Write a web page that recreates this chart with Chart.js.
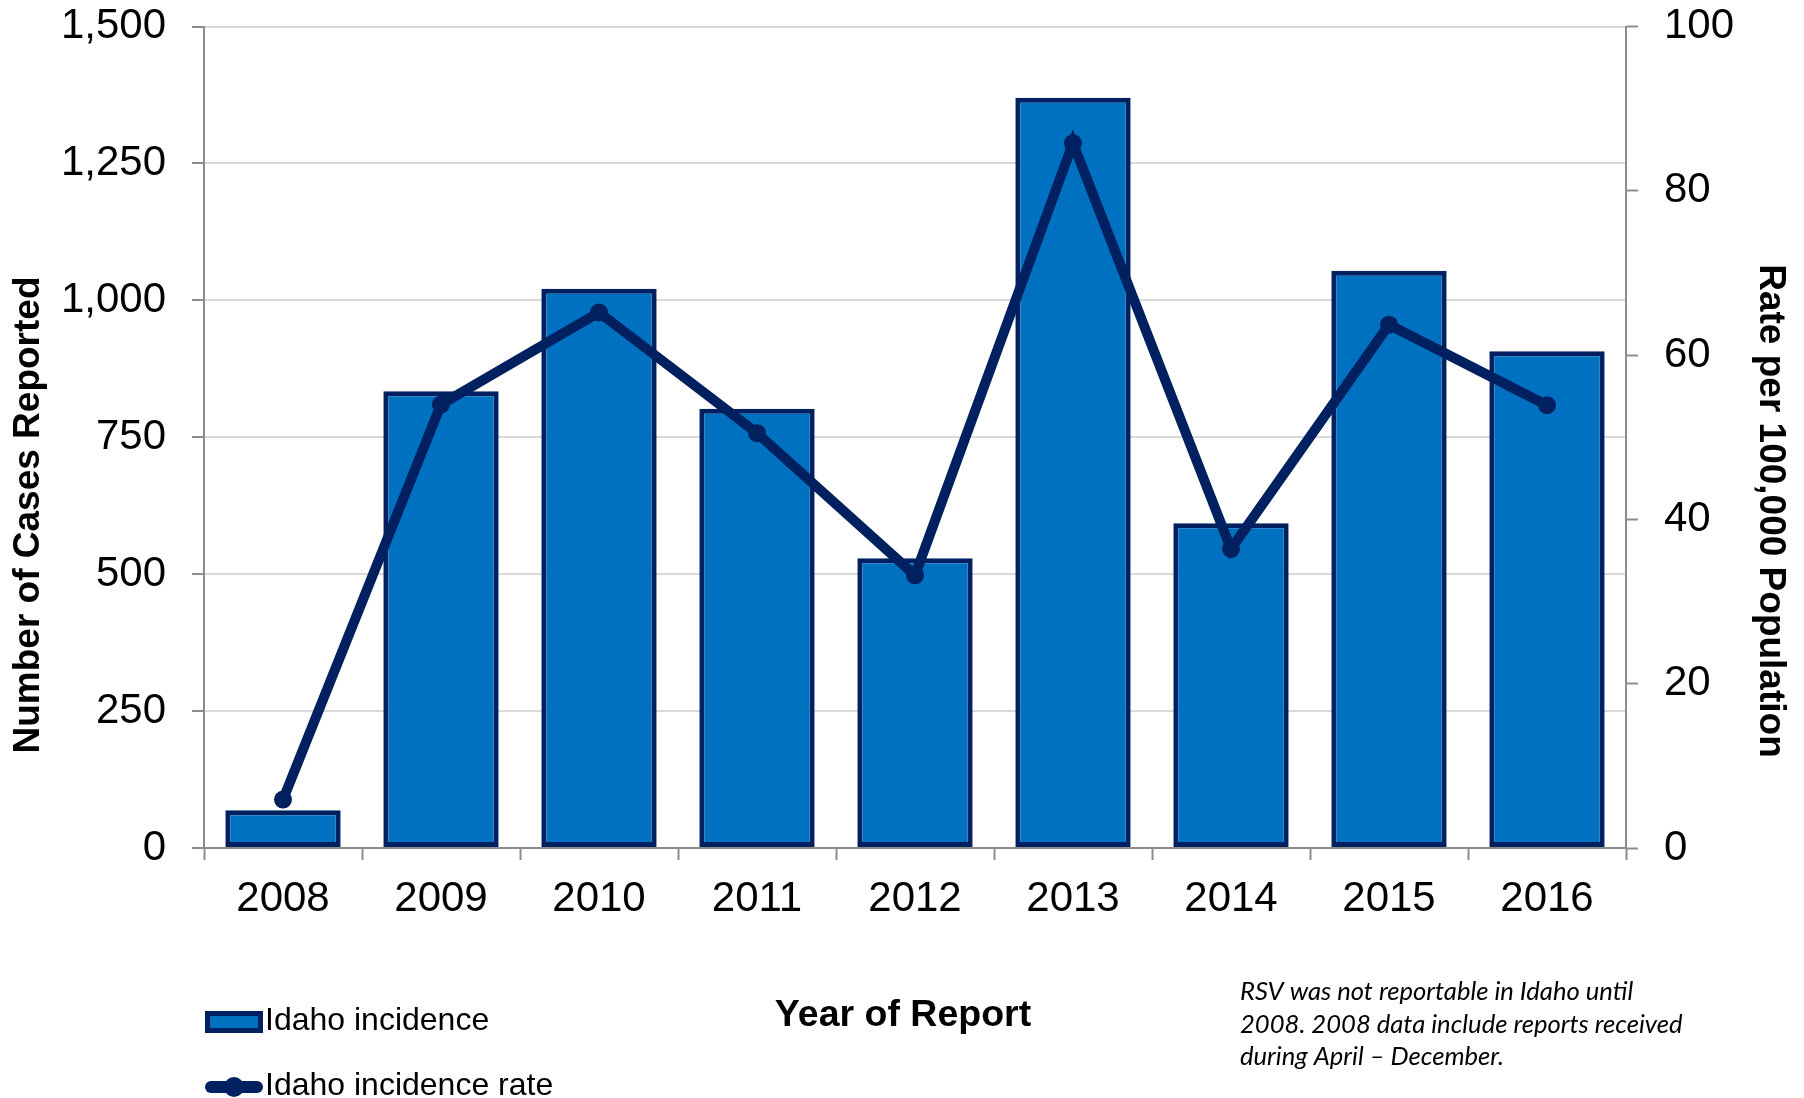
<!DOCTYPE html>
<html>
<head>
<meta charset="utf-8">
<script src="https://cdn.jsdelivr.net/npm/chart.js@4.4.1/dist/chart.umd.min.js"></script>
<style>
  html, body { margin: 0; padding: 0; background: #ffffff; }
  #wrap { position: relative; width: 1804px; height: 1098px; }
  canvas { display: block; }
</style>
</head>
<body>
<div id="wrap"><canvas id="c" width="1804" height="1098"></canvas></div>
<script>
// ---- data ----
const years = ['2008', '2009', '2010', '2011', '2012', '2013', '2014', '2015', '2016'];
const casesReported = [69, 834, 1021, 802, 529, 1370, 593, 1054, 907];
const ratePer100k = [5.9, 54.0, 65.2, 50.5, 33.2, 85.8, 36.4, 63.7, 53.9];
const seriesNames = ['Idaho incidence', 'Idaho incidence rate'];
const leftTicksMax = 1500, leftTickStep = 250;
const rightTicksMax = 100, rightTickStep = 20;
const leftTitle = 'Number of Cases Reported';
const rightTitle = 'Rate per 100,000 Population';
const bottomTitle = 'Year of Report';
const footnoteLines = ['RSV was not reportable in Idaho until', '2008. 2008 data include reports received', 'during April \u2013 December.'];

// ---- styles ----
const BAR_FILL = '#0070C0';
const NAVY = '#002060';
const AXIS_GRAY = '#8c8c8c';
const GRID_GRAY = '#d9d9d9';
const REG = '"Liberation Sans", Arial, sans-serif';
const TICK_FONT = { family: REG, size: 42 };

const PAD_L = 0, PAD_R = 0, PAD_T = 26.5, PAD_B = 0;
const CHART_LEFT = 204, CHART_RIGHT = 1626, CHART_BOTTOM = 848;

const extras = {
  id: 'extras',
  afterDraw(chart) {
    const ctx = chart.ctx;
    ctx.save();
    ctx.fillStyle = '#000';
    ctx.textAlign = 'center';
    ctx.textBaseline = 'middle';
    // left axis title
    ctx.font = 'bold 37px ' + REG;
    ctx.save(); ctx.translate(29, 515); ctx.rotate(-Math.PI / 2); ctx.fillText(leftTitle, 0, 0); ctx.restore();
    // right axis title
    ctx.save(); ctx.translate(1770, 511); ctx.rotate(Math.PI / 2); ctx.fillText(rightTitle, 0, 0); ctx.restore();
    // x title
    ctx.font = 'bold 37.5px ' + REG;
    ctx.fillText(bottomTitle, 903, 1016);

    // legend
    const barDs = chart.data.datasets[0], lineDs = chart.data.datasets[1];
    ctx.fillStyle = barDs.backgroundColor;
    ctx.fillRect(205, 1011, 58, 22);
    ctx.strokeStyle = barDs.borderColor; ctx.lineWidth = 5;
    ctx.strokeRect(207.5, 1013.5, 53, 17);
    ctx.strokeStyle = lineDs.borderColor; ctx.lineWidth = 12; ctx.lineCap = 'round';
    ctx.beginPath(); ctx.moveTo(211, 1087); ctx.lineTo(257, 1087); ctx.stroke();
    ctx.fillStyle = lineDs.borderColor;
    ctx.beginPath(); ctx.arc(234, 1087, 10, 0, Math.PI * 2); ctx.fill();
    ctx.fillStyle = '#000';
    ctx.textAlign = 'left';
    ctx.font = '32px ' + REG;
    ctx.fillText(barDs.label, 265, 1021);
    ctx.fillText(lineDs.label, 265, 1086);

    // footnote
    ctx.font = 'italic 25.6px Lato, "Liberation Sans", sans-serif';
    footnoteLines.forEach((t, i) => ctx.fillText(t, 1240, 992 + i * 32.4));
    ctx.restore();
  }
};

function noVPad(s) { s.paddingTop = 0; s.paddingBottom = 0; }

new Chart(document.getElementById('c'), {
  data: {
    labels: years,
    datasets: [
      {
        type: 'bar', label: seriesNames[0], data: casesReported, yAxisID: 'y',
        backgroundColor: BAR_FILL, borderColor: NAVY, borderWidth: 5, borderSkipped: false,
        categoryPercentage: 1.0, barPercentage: 0.73, order: 2
      },
      {
        type: 'line', label: seriesNames[1], data: ratePer100k, yAxisID: 'y1',
        borderColor: NAVY, backgroundColor: NAVY, borderWidth: 10,
        pointRadius: 9, pointBackgroundColor: NAVY, pointBorderWidth: 0,
        tension: 0, order: 1
      }
    ]
  },
  options: {
    responsive: false, animation: false,
    layout: { padding: { left: PAD_L, right: PAD_R, top: PAD_T, bottom: PAD_B } },
    plugins: { legend: { display: false }, tooltip: { enabled: false } },
    scales: {
      x: {
        type: 'category', offset: true,
        grid: { offset: true, drawOnChartArea: false, drawTicks: true, tickLength: 12, tickColor: AXIS_GRAY, tickWidth: 2 },
        border: { color: AXIS_GRAY, width: 2 },
        ticks: { color: '#000', font: TICK_FONT, padding: 14, maxRotation: 0 },
        afterFit(s) { s.height = 1098 - CHART_BOTTOM - PAD_B; s.paddingLeft = 0; s.paddingRight = 0; }
      },
      y: {
        position: 'left', min: 0, max: leftTicksMax,
        ticks: { stepSize: leftTickStep, color: '#000', font: TICK_FONT, padding: 26,
          callback: v => v.toLocaleString('en-US') },
        grid: { color: GRID_GRAY, lineWidth: 2, tickLength: 12, tickColor: AXIS_GRAY, tickWidth: 2 },
        border: { color: AXIS_GRAY, width: 2 },
        afterFit(s) { s.width = CHART_LEFT - PAD_L; noVPad(s); }
      },
      y1: {
        position: 'right', min: 0, max: rightTicksMax,
        ticks: { stepSize: rightTickStep, color: '#000', font: TICK_FONT, padding: 26 },
        grid: { drawOnChartArea: false, tickLength: 12, tickColor: AXIS_GRAY, tickWidth: 2 },
        border: { color: AXIS_GRAY, width: 2 },
        afterFit(s) { s.width = 1804 - CHART_RIGHT - PAD_R; noVPad(s); }
      }
    }
  },
  plugins: [extras]
});
</script>
</body>
</html>
